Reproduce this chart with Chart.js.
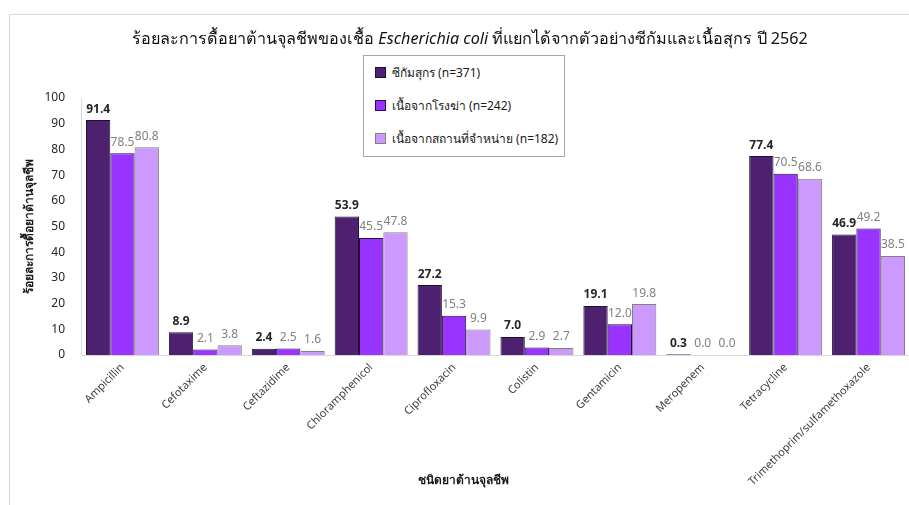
<!DOCTYPE html>
<html lang="th">
<head>
<meta charset="utf-8">
<title>ร้อยละการดื้อยาต้านจุลชีพ</title>
<script src="https://cdn.jsdelivr.net/npm/chart.js@4.4.1/dist/chart.umd.min.js"></script>
<style>
  html, body { margin: 0; padding: 0; background: #fff; overflow: hidden; }
  #wrap { position: relative; width: 909px; height: 505px; overflow: hidden; }
  #frame {
    position: absolute; left: 9px; top: 14px; width: 920px; height: 520px;
    border-left: 1px solid #d9d9d9; border-top: 1px solid #d9d9d9;
  }
  #chartTitle {
    position: absolute; left: 470px; top: 25px; transform: translateX(-50%);
    white-space: nowrap; font-family: "Noto Sans", sans-serif; font-size: 16.2px; color: #111;
  }
  #legendBox {
    position: absolute; left: 363px; top: 55px; width: 200px; height: 100px;
    border: 1px solid #a6a6a6; background: #fff;
    font-family: "Noto Sans", sans-serif; font-size: 12px; color: #1a1a1a;
  }
  .item { position: absolute; left: 11px; height: 16px; line-height: 16px; white-space: nowrap; }
  .sw { display: inline-block; width: 9px; height: 9px; margin-right: 6px; vertical-align: -1px; }
  canvas { position: absolute; left: 0; top: 0; }
</style>
</head>
<body>
<div id="wrap">
  <div id="frame"></div>
  <canvas id="amrChart" width="911" height="505"></canvas>
  <div id="chartTitle">ร้อยละการดื้อยาต้านจุลชีพของเชื้อ <i>Escherichia coli</i> ที่แยกได้จากตัวอย่างซีกัมและเนื้อสุกร ปี 2562</div>
  <div id="legendBox"></div>
</div>
<script>
const drugs = ['Ampicillin', 'Cefotaxime', 'Ceftazidime', 'Chloramphenicol', 'Ciprofloxacin',
    'Colistin', 'Gentamicin', 'Meropenem', 'Tetracycline', 'Trimethoprim/sulfamethoxazole'];
const seriesNames = ['ซีกัมสุกร (n=371)', 'เนื้อจากโรงฆ่า (n=242)', 'เนื้อจากสถานที่จำหน่าย (n=182)'];
const caecum = [91.4, 8.9, 2.4, 53.9, 27.2, 7.0, 19.1, 0.3, 77.4, 46.9];
const slaughterMeat = [78.5, 2.1, 2.5, 45.5, 15.3, 2.9, 12.0, 0.0, 70.5, 49.2];
const retailMeat = [80.8, 3.8, 1.6, 47.8, 9.9, 2.7, 19.8, 0.0, 68.6, 38.5];
const yTicks = [0, 10, 20, 30, 40, 50, 60, 70, 80, 90, 100];

const fills = ['#4d216f', '#9933ff', '#cc99ff'];
const edges = ['#1f1030', '#2a0a4a', '#808080'];
const labelColors = ['#262626', '#808080', '#808080'];
const allSeries = [caecum, slaughterMeat, retailMeat];

// legend box
const legendBox = document.getElementById('legendBox');
seriesNames.forEach((name, i) => {
    const row = document.createElement('div');
    row.className = 'item';
    row.style.top = (9 + i * 33) + 'px';
    row.innerHTML = '<span class="sw" style="background:' + fills[i] + ';border:1px solid ' + edges[i] + '"></span>' + name;
    legendBox.appendChild(row);
});

// value labels above each bar
const barValues = {
    id: 'barValues',
    afterDatasetsDraw(chart) {
        const c = chart.ctx;
        c.save();
        c.textAlign = 'center';
        c.textBaseline = 'bottom';
        chart.data.datasets.forEach((ds, i) => {
            c.font = (i === 0 ? 'bold ' : '') + '12px "Noto Sans", sans-serif';
            c.fillStyle = labelColors[i];
            chart.getDatasetMeta(i).data.forEach((bar, j) => {
                c.fillText(ds.data[j].toFixed(1), bar.x, bar.y - 5);
            });
        });
        c.restore();
    }
};

// x axis title
const xTitle = {
    id: 'xTitle',
    afterDraw(chart) {
        const c = chart.ctx;
        c.save();
        c.font = 'bold 12px "Noto Sans", sans-serif';
        c.fillStyle = '#1a1a1a';
        c.textAlign = 'center';
        c.textBaseline = 'middle';
        c.fillText('ชนิดยาต้านจุลชีพ', 463, 481);
        c.restore();
    }
};

const ctx = document.getElementById('amrChart').getContext('2d');
new Chart(ctx, {
    type: 'bar',
    data: {
        labels: drugs,
        datasets: allSeries.map((vals, i) => ({
            label: seriesNames[i],
            data: vals,
            backgroundColor: fills[i],
            borderColor: edges[i],
            borderWidth: 1,
            categoryPercentage: 0.88,
            barPercentage: 1.0
        }))
    },
    options: {
        responsive: false,
        animation: false,
        layout: { padding: { left: 10, right: 1, top: 98, bottom: 0 } },
        plugins: {
            legend: { display: false },
            title: { display: false },
            tooltip: { enabled: false }
        },
        scales: {
            x: {
                grid: { display: false, drawTicks: false },
                border: { color: '#d9d9d9', width: 1 },
                ticks: {
                    minRotation: 45, maxRotation: 45, padding: 6, autoSkip: false,
                    color: '#404040', font: { family: '"Noto Sans", sans-serif', size: 11 }
                },
                afterFit(scale) { scale.height = 150; }
            },
            y: {
                min: 0, max: 100,
                afterBuildTicks(scale) { scale.ticks = yTicks.map(v => ({ value: v })); },
                grid: { display: false, drawTicks: false },
                border: { color: '#d9d9d9', width: 1 },
                ticks: {
                    padding: 16, color: '#262626',
                    font: { family: '"Noto Sans", sans-serif', size: 12 }
                },
                title: {
                    display: true, text: 'ร้อยละการดื้อยาต้านจุลชีพ', color: '#1a1a1a',
                    font: { family: '"Noto Sans", sans-serif', size: 12, weight: 'bold' },
                    padding: { top: 12, bottom: 0 }
                },
                afterFit(scale) { scale.width = 71; }
            }
        }
    },
    plugins: [barValues, xTitle]
});
</script>
</body>
</html>
